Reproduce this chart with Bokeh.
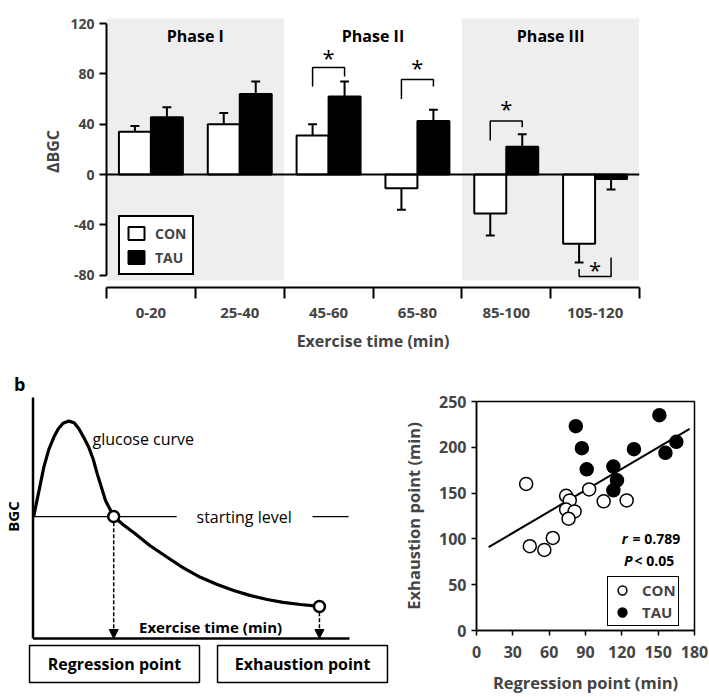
import numpy as np
from bokeh.plotting import figure
from bokeh.models import (Range1d, FixedTicker, Legend, LegendItem, Label, Span,
                          ColumnDataSource, Arrow, NormalHead, PrintfTickFormatter)
from bokeh.layouts import column, row
from bokeh.embed import file_html
from bokeh.resources import INLINE
from bokeh.core.properties import value

FONT = "Open Sans"

# ---------------- Panel a data ----------------
categories = ["0-20", "25-40", "45-60", "65-80", "85-100", "105-120"]
con_mean = [34, 40, 31, -11, -31, -55]
con_sem = [4.5, 9, 9, 17, 17.5, 15]
tau_mean = [45.5, 64, 62, 42.5, 22, -3.5]
tau_sem = [8, 10, 12, 9, 10, 8.5]
phase_names = ["Phase I", "Phase II", "Phase III"]
phase_start = [0, 2, 4]
phase_end = [2, 4, 6]
phase_shaded = [True, False, True]
sig_index = [2, 3, 4, 5]
sig_bar_y = [85, 75.5, 42.5, -81]
sig_left_y = [70, 60, 27, -75]
sig_right_y = [78, 70, 37.5, -66]
sig_star_y = [93, 85, 52, -76]
y_ticks_a = [-80, -40, 0, 40, 80, 120]

# ---------------- Panel b (schematic) ----------------
curve_t = [0.2, 2, 3.4, 5, 6.6, 8, 9.5, 11.3, 13, 14.5, 16, 17.6, 19, 20.3, 21.6,
           22.9, 25.5, 28.5, 31.8, 37, 42.4, 47.5, 52.9, 58, 63.4, 68.5, 74, 79, 84.5, 90.5]
curve_bgc = [50.6, 62, 71, 78.5, 83.6, 87, 89.3, 90.2, 89.5, 87, 83.5, 79.4, 74.5, 68.3, 62.8,
             57.3, 50.6, 47.2, 44, 38.5, 33.7, 29.3, 25.4, 22.5, 19.9, 17.9, 16.2, 15, 14.1, 13.3]
start_level = 50.6
point_t = [25.5, 90.5]        # regression point, exhaustion point
point_bgc = [50.6, 13.3]
box_names = ["Regression point", "Exhaustion point"]

# ---------------- Panel c data ----------------
con_x = [41, 44, 56, 63, 74, 77, 74, 81, 76, 93, 105, 124]
con_y = [160, 92, 88, 101, 147, 142, 132, 130, 122, 154, 141, 142]
tau_x = [82, 87, 91, 113, 116, 113, 130, 151, 156, 165]
tau_y = [223, 199, 176, 179, 164, 153, 198, 235, 194, 206]
fit_x = [10, 176]
fit_y = [91, 220]
x_ticks_c = [0, 30, 60, 90, 120, 150, 180]
y_ticks_c = [0, 50, 100, 150, 200, 250]


def style_common(p):
    p.background_fill_color = "white"
    p.border_fill_color = "white"
    try:
        p.frame_align = False
    except Exception:
        pass


# =============== Panel a ===============
n = len(categories)
pa = figure(width=709, height=368, x_range=Range1d(0, 6), y_range=Range1d(-89.8, 126.4),
            output_backend="svg", toolbar_location=None,
            min_border_left=106, min_border_right=70, min_border_top=15, min_border_bottom=81)
style_common(pa)
pa.outline_line_color = None
pa.grid.visible = False

sh_l = [s for s, f in zip(phase_start, phase_shaded) if f]
sh_r = [e for e, f in zip(phase_end, phase_shaded) if f]
pa.quad(left=sh_l, right=sh_r, top=124, bottom=-84.3, fill_color="#eeeeee", line_color=None)

half = 0.18
x_con = np.arange(n) + 0.5 - half
x_tau = np.arange(n) + 0.5 + half
r_con = pa.vbar(x=x_con, top=con_mean, bottom=0, width=2 * half,
                fill_color="white", line_color="black", line_width=2)
r_tau = pa.vbar(x=x_tau, top=tau_mean, bottom=0, width=2 * half,
                fill_color="black", line_color="black", line_width=2)

for xs, m, e in ((x_con, con_mean, con_sem), (x_tau, tau_mean, tau_sem)):
    m = np.array(m, dtype=float)
    end = m + np.sign(m) * np.array(e)
    pa.segment(x0=xs, y0=m, x1=xs, y1=end, line_color="black", line_width=2)
    pa.segment(x0=xs - 0.05, y0=end, x1=xs + 0.05, y1=end, line_color="black", line_width=2)

pa.add_layout(Span(location=0, dimension="width", line_color="black", line_width=2))

bxs, bys = [], []
for i, top, ly, ry in zip(sig_index, sig_bar_y, sig_left_y, sig_right_y):
    xl, xr = i + 0.5 - half, i + 0.5 + half
    bxs.append([xl, xl, xr, xr])
    bys.append([ly, top, top, ry])
pa.multi_line(xs=bxs, ys=bys, line_color="black", line_width=1.5)
pa.text(x=[i + 0.5 for i in sig_index], y=sig_star_y, text=["*"] * len(sig_index),
        text_font=value(FONT), text_font_size="22px", text_align="center",
        text_baseline="alphabetic", y_offset=-1, text_color="black")

pa.text(x=[(s + e) / 2 for s, e in zip(phase_start, phase_end)], y=[110.5] * 3, text=phase_names,
        text_font=value(FONT), text_font_style="bold", text_font_size="16px",
        text_align="center", text_baseline="middle", text_color="black")

ya = pa.yaxis[0]
ya.ticker = FixedTicker(ticks=y_ticks_a)
ya.formatter = PrintfTickFormatter(format="%d")
ya.bounds = (-80, 120)
ya.axis_line_width = 2
ya.major_tick_line_width = 2
ya.major_tick_out = 7
ya.major_tick_in = 0
ya.minor_tick_line_color = None
ya.major_label_text_font = FONT
ya.major_label_text_font_style = "bold"
ya.major_label_text_font_size = "14px"
ya.major_label_standoff = 5
ya.axis_label = "ΔBGC"
ya.axis_label_text_font = FONT
ya.axis_label_text_font_style = "bold"
ya.axis_label_text_font_size = "16px"
ya.axis_label_standoff = 3

centers = [i + 0.5 for i in range(n)]
xa = pa.xaxis[0]
xa.ticker = FixedTicker(ticks=centers, minor_ticks=list(range(n + 1)))
xa.major_label_overrides = {c: lab for c, lab in zip(centers, categories)}
xa.bounds = (0, 6)
xa.axis_line_width = 2
xa.major_tick_line_color = None
xa.major_tick_out = 0
xa.major_tick_in = 0
xa.minor_tick_line_color = "black"
xa.minor_tick_line_width = 2
xa.minor_tick_out = 11
xa.minor_tick_in = 0
xa.major_label_text_font = FONT
xa.major_label_text_font_style = "bold"
xa.major_label_text_font_size = "15px"
xa.major_label_standoff = 9
xa.axis_label = "Exercise time (min)"
xa.axis_label_text_font = FONT
xa.axis_label_text_font_style = "bold"
xa.axis_label_text_font_size = "16px"
xa.axis_label_standoff = 9

leg_a = Legend(items=[LegendItem(label="CON", renderers=[r_con]),
                      LegendItem(label="TAU", renderers=[r_tau])],
               location=(12, 12), border_line_color="black", border_line_width=2,
               border_line_alpha=1,
               background_fill_color="white", background_fill_alpha=1,
               label_text_font=FONT, label_text_font_style="bold", label_text_font_size="14px",
               glyph_width=20, glyph_height=16, label_height=20, spacing=4, padding=6,
               margin=0, label_standoff=9)
pa.add_layout(leg_a)
pa.add_layout(Label(x=-58, y=274, x_units="screen", y_units="screen", text="a",
                    text_font=FONT, text_font_style="bold", text_font_size="18px",
                    text_align="center", text_baseline="middle"))

# =============== Panel b ===============
pb = figure(width=396, height=329, x_range=Range1d(-10.27, 114.85), y_range=Range1d(-24.48, 112.03),
            x_axis_type=None, y_axis_type=None, output_backend="svg", toolbar_location=None,
            min_border=0, min_border_left=0, min_border_right=0, min_border_top=0, min_border_bottom=0)
style_common(pb)
pb.outline_line_color = None

pb.segment(x0=[0, 0], y0=[0, 0], x1=[0, 100], y1=[100, 0], line_color="black", line_width=2.5)
pb.segment(x0=[0, 88.3], y0=[start_level, start_level], x1=[45.4, 99.7], y1=[start_level, start_level],
           line_color="black", line_width=1.2)
pb.line(curve_t, curve_bgc, line_color="black", line_width=3.2, line_join="round")

arr_src = ColumnDataSource(dict(x0=point_t, y0=[b - 2.4 for b in point_bgc], x1=point_t, y1=[0, 0]))
pb.add_layout(Arrow(end=NormalHead(size=9, fill_color="black", line_color="black", line_width=1),
                    x_start="x0", y_start="y0", x_end="x1", y_end="y1", source=arr_src,
                    line_color="black", line_width=1.5, line_dash="4 2"))
pb.scatter(point_t, point_bgc, marker="circle", size=11, fill_color="white",
           line_color="black", line_width=2.5)

pb.text(x=[18.8], y=[82.6], text=["glucose curve"], text_font=value(FONT), text_font_size="16px",
        text_align="left", text_baseline="middle", text_color="black")
pb.text(x=[66.7], y=[start_level], text=["starting level"], text_font=value(FONT),
        text_font_size="16px", text_align="center", text_baseline="middle", text_color="black")
pb.text(x=[56.1], y=[4.6], text=["Exercise time (min)"], text_font=value(FONT),
        text_font_style="bold", text_font_size="15px", text_align="center",
        text_baseline="middle", text_color="black")
pb.text(x=[-6.3], y=[start_level], text=["BGC"], angle=np.pi / 2, text_font=value(FONT),
        text_font_style="bold", text_font_size="15px", text_align="center",
        text_baseline="middle", text_color="black")
pb.text(x=[-4.2], y=[105.4], text=["b"], text_font=value(FONT), text_font_style="bold",
        text_font_size="18px", text_align="center", text_baseline="middle", text_color="black")

box_l = [-1.1, 58.3]
box_r = [52.6, 112]
pb.quad(left=box_l, right=box_r, top=-2.9, bottom=-18.3, fill_color="white",
        line_color="black", line_width=1.5)
pb.text(x=[(l + r) / 2 for l, r in zip(box_l, box_r)], y=[-10.6, -10.6], text=box_names,
        text_font=value(FONT), text_font_style="bold", text_font_size="16px",
        text_align="center", text_baseline="middle", text_color="black")

# =============== Panel c ===============
pc = figure(width=313, height=329, x_range=Range1d(0, 180), y_range=Range1d(0, 250),
            output_backend="svg", toolbar_location=None,
            min_border_left=80, min_border_right=15, min_border_top=33, min_border_bottom=67)
style_common(pc)
pc.outline_line_color = "black"
pc.outline_line_width = 1.5
pc.outline_line_alpha = 1
pc.grid.visible = False

pc.line(fit_x, fit_y, line_color="black", line_width=2)
r_c = pc.scatter(con_x, con_y, marker="circle", size=13, fill_color="white",
                 line_color="black", line_width=1.5)
r_t = pc.scatter(tau_x, tau_y, marker="circle", size=13, fill_color="black",
                 line_color="black", line_width=1.5)

pc.text(x=[124.7], y=[100.4], text=["r"], text_font=value(FONT), text_font_style="bold italic",
        text_font_size="14px", text_align="right", text_baseline="middle", text_color="black")
pc.text(x=[128.8], y=[100.4], text=["= 0.789"], text_font=value(FONT), text_font_style="bold",
        text_font_size="14px", text_align="left", text_baseline="middle", text_color="black")
pc.text(x=[128.8], y=[76.4], text=["P"], text_font=value(FONT), text_font_style="bold italic",
        text_font_size="14px", text_align="right", text_baseline="middle", text_color="black")
pc.text(x=[130.5], y=[76.4], text=["< 0.05"], text_font=value(FONT), text_font_style="bold",
        text_font_size="14px", text_align="left", text_baseline="middle", text_color="black")

for ax, ticks, lab, std, lstd in ((pc.xaxis[0], x_ticks_c, "Regression point (min)", 10, 10),
                                  (pc.yaxis[0], y_ticks_c, "Exhaustion point (min)", 5, 11)):
    ax.ticker = FixedTicker(ticks=ticks)
    ax.axis_line_width = 1.5
    ax.major_tick_line_width = 1.5
    ax.major_tick_out = 5
    ax.major_tick_in = 0
    ax.minor_tick_line_color = None
    ax.major_label_text_font = FONT
    ax.major_label_text_font_style = "bold"
    ax.major_label_text_font_size = "16px"
    ax.major_label_standoff = std
    ax.axis_label = lab
    ax.axis_label_text_font = FONT
    ax.axis_label_text_font_style = "bold"
    ax.axis_label_text_font_size = "16.5px"
    ax.axis_label_standoff = lstd

leg_c = Legend(items=[LegendItem(label="CON", renderers=[r_c]),
                      LegendItem(label="TAU", renderers=[r_t])],
               location=(131, 4), border_line_color="black", border_line_width=1.5,
               border_line_alpha=1,
               background_fill_color="white", background_fill_alpha=1,
               label_text_font=FONT, label_text_font_style="bold", label_text_font_size="15px",
               glyph_width=24, glyph_height=22, label_height=20, spacing=0, padding=2,
               margin=0, label_standoff=8)
pc.add_layout(leg_c)
pc.add_layout(Label(x=-58, y=247, x_units="screen", y_units="screen", text="c",
                    text_font=FONT, text_font_style="bold", text_font_size="18px",
                    text_align="center", text_baseline="middle"))

layout = column(pa, row(pb, pc))
open("out.html", "w").write(file_html(layout, INLINE))
